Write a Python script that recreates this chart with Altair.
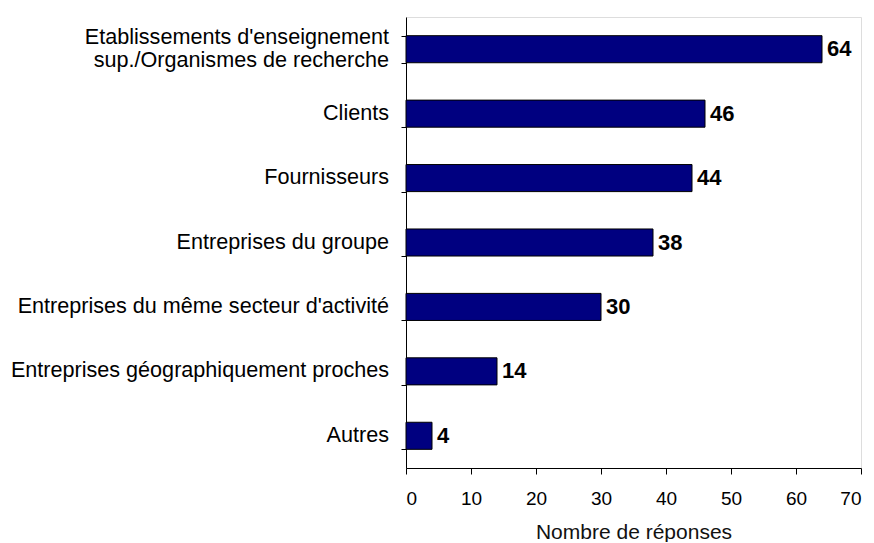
import altair as alt
import pandas as pd

line1 = [
    "Etablissements d'enseignement",
    "Clients",
    "Fournisseurs",
    "Entreprises du groupe",
    "Entreprises du même secteur d'activité",
    "Entreprises géographiquement proches",
    "Autres",
]
line2 = ["sup./Organismes de recherche", "", "", "", "", "", ""]
values = [64, 46, 44, 38, 30, 14, 4]

cats = [a + (" " + b if b else "") for a, b in zip(line1, line2)]
df = pd.DataFrame({"cat": cats, "line1": line1, "line2": line2, "val": values})

FONT = "Liberation Sans"

y_enc = alt.Y(
    "cat:N",
    sort=cats,
    title=None,
    scale=alt.Scale(paddingInner=0.58, paddingOuter=0.29),
    axis=alt.Axis(
        labels=False,
        tickBand="extent",
        tickSize=5,
        tickColor="#000",
        domainColor="#000",
    ),
)

x_enc = alt.X(
    "val:Q",
    title="Nombre de réponses",
    scale=alt.Scale(domain=[0, 70]),
    axis=alt.Axis(
        values=[0, 10, 20, 30, 40, 50, 60, 70],
        grid=False,
        labelFont=FONT,
        labelFontSize=19,
        labelColor="#000",
        labelPadding=15,
        tickSize=6,
        tickColor="#000",
        domainColor="#000",
        titleFont=FONT,
        titleFontSize=21,
        titleFontWeight="normal",
        titleColor="#111",
        titlePadding=13,
    ),
)

base = alt.Chart(df).encode(y=y_enc)

bars = base.mark_bar(color="#000080", stroke="#000", strokeWidth=1).encode(x=x_enc)
values_txt = base.mark_text(
    align="left", baseline="middle", dx=5, font=FONT, fontSize=22, fontWeight="bold", color="#000"
).encode(x=alt.X("val:Q"), text="val:Q")

lab_kw = dict(align="right", baseline="middle", font=FONT, fontSize=21.6, color="#000")
single = base.transform_filter("datum.line2 == ''").mark_text(**lab_kw).encode(
    x=alt.value(-17), text="line1:N"
)
top_line = base.transform_filter("datum.line2 != ''").mark_text(dy=-11.5, **lab_kw).encode(
    x=alt.value(-17), text="line1:N"
)
bottom_line = base.transform_filter("datum.line2 != ''").mark_text(dy=11.5, **lab_kw).encode(
    x=alt.value(-17), text="line2:N"
)

chart = (
    alt.layer(bars, values_txt, single, top_line, bottom_line)
    .properties(width=455, height=451, padding={"left": 2, "top": 9, "right": 0, "bottom": 0})
    .configure_view(stroke=None)
    .configure(background="white")
)

chart.save("out.html", embed_options={"renderer": "svg", "actions": False})
